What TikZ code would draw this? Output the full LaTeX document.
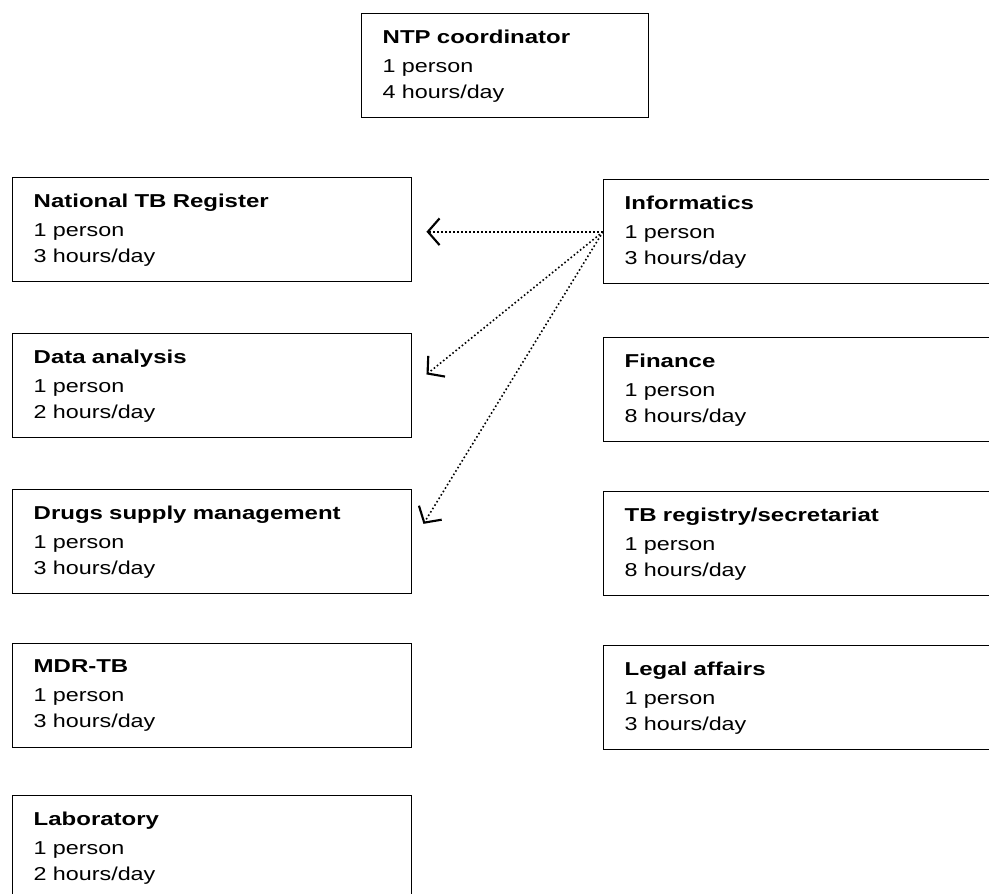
\documentclass[tikz,border=0pt]{standalone}
\usepackage{fontspec}
\setmainfont[FakeStretch=1.25,BoldFeatures={FakeStretch=1.285}]{Liberation Sans}
\usepackage{tikz}
\usetikzlibrary{arrows.meta,positioning}

\begin{document}
\begin{tikzpicture}[x=0.75pt,y=-0.75pt,
  unitbox/.style={draw,line width=1.1pt,anchor=north west,minimum height=78pt,
    inner xsep=15.75pt,inner ysep=0pt,align=left,
    font=\fontsize{14pt}{19.5pt}\selectfont},
  leftbox/.style={unitbox,minimum width=299.25pt,text width=267.75pt},
  rightbox/.style={unitbox,minimum width=297.75pt,text width=266.25pt},
  infolink/.style={line width=1.2pt,dash pattern=on 1.2pt off 1.8pt,
    -{Straight Barb[length=8.75pt,width=20pt,line width=1.6pt]}}]
  \useasboundingbox (0,0) rectangle (989,893);
  \node[unitbox,minimum width=215.25pt,text width=183.75pt] (ntp) at (361,13)
    {\textbf{NTP coordinator}\\[2.25pt]1 person\\4 hours/day};
  \node[leftbox] (register) at (12,177) {\textbf{National TB Register}\\[2.25pt]1 person\\3 hours/day};
  \node[leftbox] (analysis) at (12,333) {\textbf{Data analysis}\\[2.25pt]1 person\\2 hours/day};
  \node[leftbox] (drugs) at (12,489) {\textbf{Drugs supply management}\\[2.25pt]1 person\\3 hours/day};
  \node[leftbox] (mdr) at (12,643) {\textbf{MDR-TB}\\[2.25pt]1 person\\3 hours/day};
  \node[leftbox] (lab) at (12,795) {\textbf{Laboratory}\\[2.25pt]1 person\\2 hours/day};
  \node[rightbox] (informatics) at (603,179) {\textbf{Informatics}\\[2.25pt]1 person\\3 hours/day};
  \node[rightbox] (finance) at (603,337) {\textbf{Finance}\\[2.25pt]1 person\\8 hours/day};
  \node[rightbox] (registry) at (603,491) {\textbf{TB registry/secretariat}\\[2.25pt]1 person\\8 hours/day};
  \node[rightbox] (legal) at (603,645) {\textbf{Legal affairs}\\[2.25pt]1 person\\3 hours/day};
  \draw[infolink,shorten >=10.5pt] (informatics.west) -- (register.east |- informatics.west);
  \draw[infolink,shorten >=13.5pt] (informatics.west) -- (analysis.east);
  \draw[infolink,shorten >=15.75pt] (informatics.west) -- (drugs.east);
\end{tikzpicture}
\end{document}
